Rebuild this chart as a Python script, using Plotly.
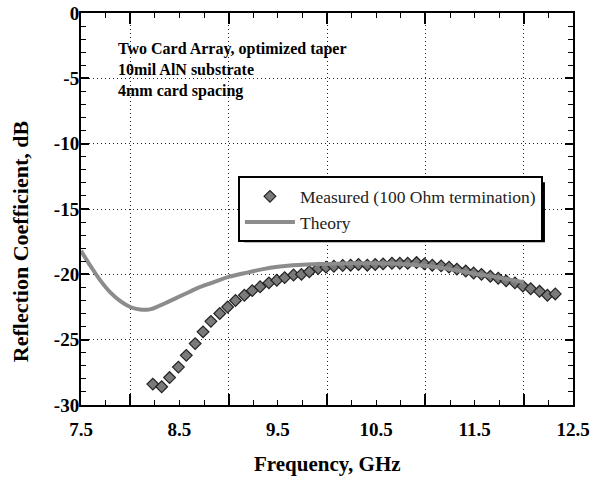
import plotly.graph_objects as go

# ---------------- data ----------------
theory_freq = [7.50, 7.60, 7.70, 7.80, 7.90, 8.00, 8.10, 8.20, 8.30, 8.40, 8.50,
               8.60, 8.70, 8.85, 9.00, 9.20, 9.35, 9.50, 9.65, 9.80, 10.00,
               10.25, 10.50, 10.75, 11.00, 11.25, 11.50, 11.75, 12.00]
theory_db = [-18.2, -19.4, -20.5, -21.4, -22.05, -22.5, -22.7, -22.68, -22.4, -22.05, -21.7,
             -21.35, -21.0, -20.6, -20.2, -19.85, -19.6, -19.42, -19.3, -19.24, -19.2,
             -19.15, -19.15, -19.2, -19.35, -19.6, -19.95, -20.25, -20.6]

meas_freq = [8.23, 8.32, 8.40, 8.49, 8.57, 8.66, 8.74, 8.82, 8.91, 8.99,
             9.07, 9.16, 9.24, 9.32, 9.41, 9.49, 9.57, 9.66, 9.74, 9.82,
             9.91, 9.99, 10.07, 10.16, 10.24, 10.32, 10.41, 10.49, 10.57, 10.66,
             10.74, 10.82, 10.91, 10.99, 11.07, 11.16, 11.24, 11.32, 11.41, 11.49,
             11.57, 11.66, 11.74, 11.82, 11.91, 11.99, 12.07, 12.16, 12.24, 12.32]
meas_db = [-28.4, -28.6, -27.9, -27.1, -26.2, -25.3, -24.4, -23.6, -23.0, -22.5,
           -22.0, -21.6, -21.25, -20.95, -20.65, -20.45, -20.25, -20.05, -20.0, -19.8,
           -19.55, -19.45, -19.38, -19.32, -19.3, -19.25, -19.3, -19.25, -19.2, -19.15,
           -19.15, -19.15, -19.1, -19.2, -19.3, -19.35, -19.45, -19.6, -19.75, -19.9,
           -20.0, -20.15, -20.3, -20.5, -20.65, -20.9, -21.1, -21.3, -21.6, -21.5]

x_label_vals = [7.5, 8.5, 9.5, 10.5, 11.5, 12.5]
x_grid_vals = [8, 9, 10, 11, 12]
y_label_vals = [0, -5, -10, -15, -20, -25, -30]

note_lines = ["Two Card Array, optimized taper", "10mil AlN substrate", "4mm card spacing"]

# ---------------- figure ----------------
SERIF = "Liberation Serif, Times New Roman, serif"

# quarter-GHz tick positions; only the half-GHz ones carry a label
x_tick_pos = [7.5 + 0.25 * i for i in range(21)]
x_tick_txt = [f"{v:g}" if v in x_label_vals else "" for v in x_tick_pos]

fig = go.Figure()
fig.add_trace(go.Scatter(
    x=meas_freq, y=meas_db, mode="markers", name="Measured (100 Ohm termination)",
    marker=dict(symbol="diamond", size=9, color="#7a7a7a",
                line=dict(color="#222222", width=1.2)),
))
fig.add_trace(go.Scatter(
    x=theory_freq, y=theory_db, mode="lines", name="Theory",
    line=dict(color="#8c8c8c", width=4, shape="spline", smoothing=1.0),
))

tickfont = dict(family=SERIF, size=19, color="black", weight="bold")
GRIDDASH = "1px,3px"

fig.update_layout(
    template="none",
    width=598, height=477,
    margin=dict(l=81, r=25, t=13, b=72, autoexpand=False),
    paper_bgcolor="white", plot_bgcolor="white",
    font=dict(family=SERIF, color="black"),
    xaxis=dict(
        range=[7.5, 12.5], tickmode="array", tickvals=x_tick_pos, ticktext=x_tick_txt,
        automargin=False,
        ticks="inside", ticklen=5, tickwidth=1.3, tickcolor="black",
        minor=dict(tickmode="array", tickvals=x_grid_vals, ticks="inside", ticklen=11,
                   tickcolor="black", tickwidth=1.5, showgrid=True,
                   gridcolor="#222222", gridwidth=1, griddash=GRIDDASH),
        showline=True, linecolor="black", linewidth=2, mirror="allticks",
        showgrid=False, zeroline=False, tickfont=tickfont, ticklabelstandoff=6,
    ),
    yaxis=dict(
        range=[-30, 0], tickmode="array", tickvals=y_label_vals,
        ticktext=[f"{v:g}" for v in y_label_vals], automargin=False,
        ticks="inside", ticklen=8, tickwidth=1.5, tickcolor="black",
        minor=dict(dtick=1, tick0=0, ticks="inside", ticklen=5, tickcolor="black", tickwidth=1.2),
        showline=True, linecolor="black", linewidth=2, mirror="allticks",
        showgrid=True, gridcolor="#222222", gridwidth=1, griddash=GRIDDASH,
        zeroline=False, tickfont=tickfont, ticklabelstandoff=-4,
    ),
    legend=dict(
        x=0.319, y=0.583, xanchor="left", yanchor="top",
        bgcolor="white", bordercolor="black", borderwidth=2,
        font=dict(family=SERIF, size=17.5, color="#222222"),
        itemwidth=50, tracegroupgap=0,
    ),
    showlegend=True,
)

# drop shadow behind the legend box
fig.add_shape(type="rect", xref="paper", yref="paper", x0=0.331, x1=0.943, y0=0.415, y1=0.568,
              fillcolor="black", line=dict(width=0), layer="above")

fig.add_annotation(text="<br>".join(note_lines), xref="paper", yref="paper",
                   x=0.071, y=0.936, xanchor="left", yanchor="top", align="left",
                   showarrow=False, font=dict(family=SERIF, size=16, weight="bold"))
fig.add_annotation(text="Frequency, GHz", xref="paper", yref="paper",
                   x=0.5, y=-0.15, xanchor="center", yanchor="middle",
                   showarrow=False, font=dict(family=SERIF, size=21, weight="bold"))
fig.add_annotation(text="Reflection Coefficient, dB", xref="paper", yref="paper",
                   x=-0.124, y=0.418, xanchor="center", yanchor="middle", textangle=-90,
                   showarrow=False, font=dict(family=SERIF, size=22, weight="bold"))

fig.write_html("out.html")
